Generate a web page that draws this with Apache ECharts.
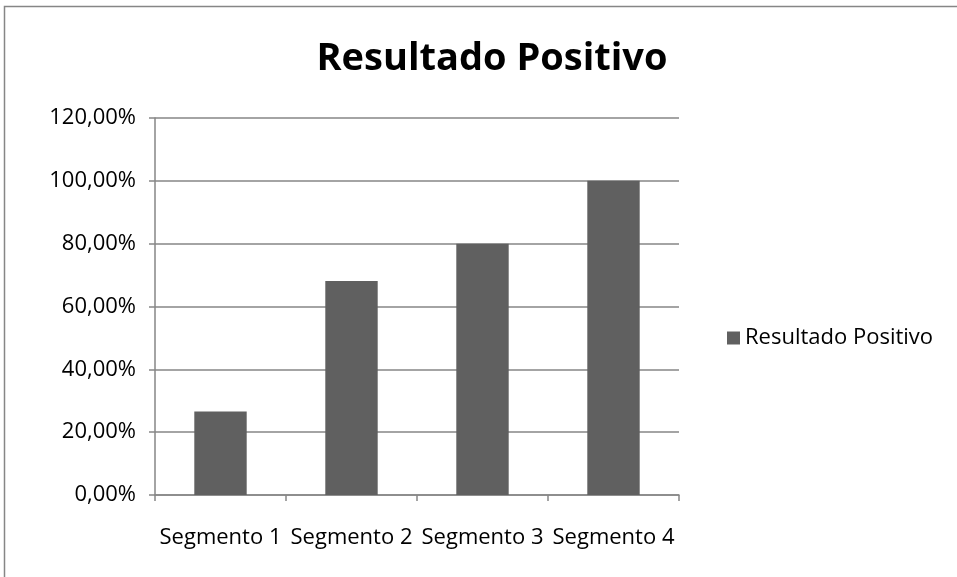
<!DOCTYPE html>
<html>
<head>
<meta charset="utf-8">
<script src="https://cdn.jsdelivr.net/npm/echarts@6/dist/echarts.min.js"></script>
<style>
  html, body { margin: 0; padding: 0; background: #fff; }
  #chart { width: 957px; height: 577px; }
</style>
</head>
<body>
<div id="chart"></div>
<script>
const categories = ['Segmento 1', 'Segmento 2', 'Segmento 3', 'Segmento 4']
const values = [26.6, 68.1, 80, 100]
const seriesName = 'Resultado Positivo'

const font = '"Open Sans", "Noto Sans", sans-serif'
const gray = '#868686'

const chart = echarts.init(document.getElementById('chart'))
chart.setOption({
  backgroundColor: '#fff',
  animation: false,
  title: {
    text: 'Resultado Positivo',
    left: 487,
    top: 35,
    textAlign: 'center',
    textStyle: { fontFamily: font, fontWeight: 'bold', fontSize: 38, color: '#000' }
  },
  legend: {
    orient: 'vertical',
    left: 722,
    top: 322,
    itemWidth: 13,
    itemHeight: 13,
    itemGap: 6,
    icon: 'rect',
    textStyle: { fontFamily: font, fontSize: 22, color: '#000' },
    data: [seriesName]
  },
  grid: { left: 155, right: 278, top: 118, bottom: 82, containLabel: false },
  xAxis: {
    type: 'category',
    data: categories,
    axisLine: { lineStyle: { color: gray, width: 1.5 } },
    axisTick: { show: true, length: 6, lineStyle: { color: gray, width: 1.5 } },
    axisLabel: { fontFamily: font, fontSize: 22, color: '#000', margin: 32, interval: 0 }
  },
  yAxis: {
    type: 'value',
    min: 0,
    max: 120,
    interval: 20,
    axisLine: { show: true, lineStyle: { color: gray, width: 1.5 } },
    axisTick: { show: true, length: 6, lineStyle: { color: gray, width: 1.5 } },
    splitLine: { lineStyle: { color: gray, width: 1.5 } },
    axisLabel: {
      fontFamily: font, fontSize: 22, color: '#000', margin: 19,
      formatter: v => v.toFixed(2).replace('.', ',') + '%'
    }
  },
  series: [{
    name: seriesName,
    type: 'bar',
    data: values,
    barWidth: '40%',
    itemStyle: { color: '#606060' }
  }],
  graphic: [{
    type: 'rect',
    shape: { x: 4.5, y: 6.5, width: 970, height: 600 },
    style: { fill: null, stroke: gray, lineWidth: 1.5 },
    silent: true
  }]
})
</script>
</body>
</html>
